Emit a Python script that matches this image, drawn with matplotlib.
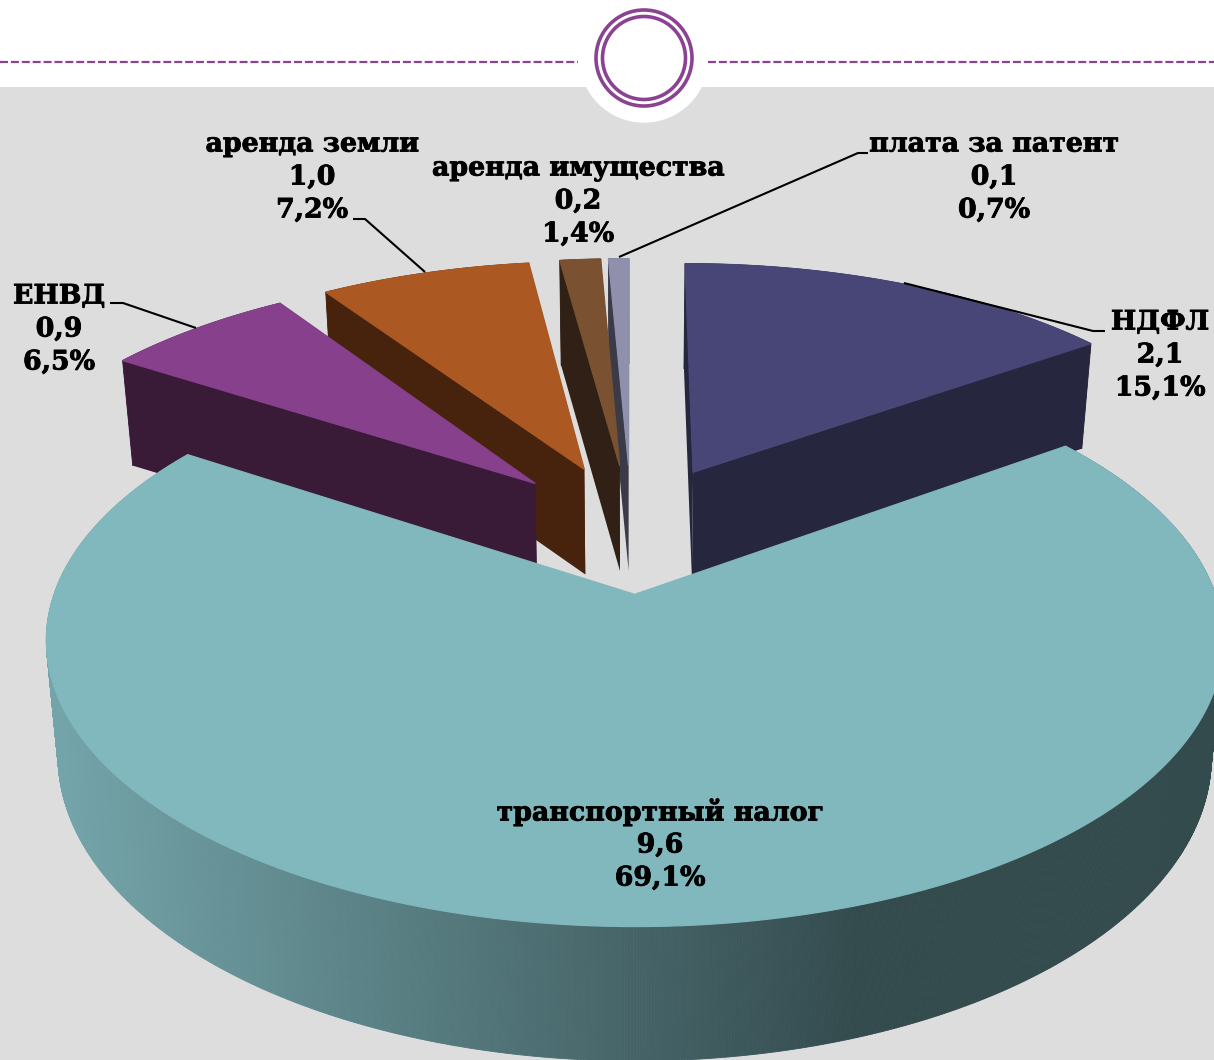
import matplotlib
matplotlib.use('Agg')
import matplotlib.pyplot as plt
import matplotlib.patheffects as pe
from matplotlib.collections import PolyCollection
from matplotlib.colors import to_rgb
from matplotlib.patches import Circle, Rectangle
import numpy as np

# clockwise from 12 o'clock, as on the chart
names = ['НДФЛ', 'транспортный налог', 'ЕНВД', 'аренда земли', 'аренда имущества', 'плата за патент']
amounts = [2.1, 9.6, 0.9, 1.0, 0.2, 0.1]
shares = [15.1, 69.1, 6.5, 7.2, 1.4, 0.7]

top_colors = ['#474676', '#81b8bd', '#87408c', '#ab5823', '#7a5232', '#9090ac']
side_colors = ['#26263f', '#344b4e', '#391b38', '#47230e', '#302015', '#3a3a48']

# label centre x, first line y
label_pos = [(1160, 322), (660, 812), (59, 296), (312, 144), (578, 168), (994, 144)]
leaders = {
    0: [(904, 283), (1093, 331), (1105, 331)],
    2: [(196, 328), (123, 303), (110, 303)],
    3: [(425, 272), (365, 219), (353, 219)],
    5: [(619, 257), (858, 153), (868, 153)],
}

PURPLE = '#8b4292'
GRAY = '#dddddd'

# perspective of the pie plane, in pixels
CX, CY = 631.5, 527.5
A, B, K = 558, 257, 0.156
EXPLODE = 0.25


def project(u, v, lower=False):
    """Unit-disc coordinates to pixels, on the top or the bottom face."""
    u, v = np.asarray(u, float), np.asarray(v, float)
    w = 1 + K * v
    x = u / w
    y = v / w
    if lower:
        return CX + 0.98 * A * x, CY - B * y + np.maximum(105, 108 - 17 * y)
    return CX + A * x, CY - B * y


def slice_geometry(start, end):
    mid = np.radians((start + end) / 2)
    u0, v0 = EXPLODE * np.sin(mid), EXPLODE * np.cos(mid)
    t = np.radians(np.linspace(start, end, max(int(end - start) * 4, 8)))
    return u0, v0, u0 + np.sin(t), v0 + np.cos(t)


fig = plt.figure(figsize=(12.14, 10.6), dpi=100)
ax = fig.add_axes([0, 0, 1, 1])
ax.set_xlim(0, 1214)
ax.set_ylim(1060, 0)
ax.axis('off')

# slide furniture
ax.add_patch(Rectangle((0, 87), 1214, 973, color=GRAY, lw=0))
ax.add_patch(Circle((644, 58), 64.7, color='white', lw=0))
ax.add_patch(Circle((644, 58), 48, fc='none', ec=PURPLE, lw=2.6))
ax.add_patch(Circle((644, 58), 41.5, fc='none', ec=PURPLE, lw=2.6))
for x0, x1 in [(0, 578), (708, 1214)]:
    ax.plot([x0, x1], [62, 62], color=PURPLE, lw=1.6, dashes=(3.6, 1.3))

edges = np.concatenate([[0], np.cumsum(shares)]) / sum(shares) * 360

# far slices first, the large front slice last
order = [5, 4, 3, 2, 0, 1]
rim_dark = np.array(to_rgb('#344b4e'))
rim_light = np.array(to_rgb('#73a4a9'))

for i in order:
    u0, v0, u, v = slice_geometry(edges[i], edges[i + 1])
    xt, yt = project(u, v)
    xb, yb = project(u, v, lower=True)
    ax0, ay0 = project(u0, v0)
    bx0, by0 = project(u0, v0, lower=True)

    # outer rim
    quads = [[(xt[j], yt[j]), (xt[j + 1], yt[j + 1]), (xb[j + 1], yb[j + 1]), (xb[j], yb[j])]
             for j in range(len(xt) - 1)]
    if i == 1:
        mix = np.clip((xt[:-1] - 60) / (860 - 60), 0, 1)[:, None]
        colors = rim_light * (1 - mix) + rim_dark * mix
    else:
        colors = [side_colors[i]] * len(quads)
    ax.add_collection(PolyCollection(quads, facecolors=colors, edgecolors=colors, linewidths=0.6))

    # radial faces
    if i != 1:
        for j in (0, -1):
            ax.fill([ax0, xt[j], xb[j], bx0], [ay0, yt[j], yb[j], by0],
                    color=side_colors[i], lw=0)

    # top face, its edge hides the rim behind it
    ax.fill(np.r_[ax0, xt], np.r_[ay0, yt], fc=top_colors[i], ec=top_colors[i], lw=0.9)

# leader lines
for pts_line in leaders.values():
    xs, ys = zip(*pts_line)
    ax.plot(xs, ys, color='black', lw=1.5, solid_capstyle='butt')

# labels
LINE_STEP = 33
for i, (lx, ly) in enumerate(label_pos):
    rows = [names[i], f'{amounts[i]:.1f}'.replace('.', ','), f'{shares[i]:.1f}%'.replace('.', ',')]
    for n, row in enumerate(rows):
        ax.text(lx, ly + n * LINE_STEP, row, ha='center', va='center',
                family='DejaVu Serif', fontweight='bold', fontsize=19.3, color='black',
                path_effects=[pe.withStroke(linewidth=0.6, foreground='black')])

fig.savefig('out.png', dpi=100)
plt.close(fig)
